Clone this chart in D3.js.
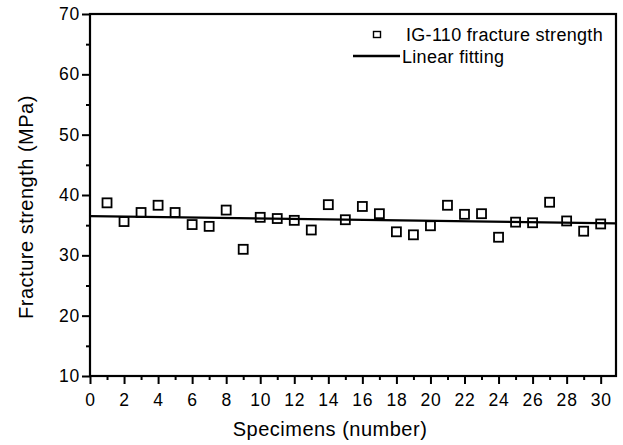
<!DOCTYPE html>
<html>
<head>
<meta charset="utf-8">
<script src="https://cdn.jsdelivr.net/npm/d3@7"></script>
<style>
  body { margin: 0; background: #fff; }
  text { font-family: "Liberation Sans", Arial, sans-serif; fill: #000; }
</style>
</head>
<body>
<svg id="chart" width="623" height="445"></svg>
<script>
// specimen numbers and measured fracture strength (MPa)
var specimens = [1, 2, 3, 4, 5, 6, 7, 8, 9, 10, 11, 12, 13, 14, 15,
                 16, 17, 18, 19, 20, 21, 22, 23, 24, 25, 26, 27, 28, 29, 30];
var strength = [38.7, 35.6, 37.1, 38.3, 37.1, 35.1, 34.8, 37.5, 31.0, 36.3, 36.1, 35.8, 34.2, 38.4, 35.9,
                38.1, 36.9, 33.9, 33.4, 34.9, 38.3, 36.8, 36.9, 33.0, 35.5, 35.4, 38.8, 35.7, 34.0, 35.2];

// linear fitting end points
var fitX = [0, 30.9];
var fitY = [36.5, 35.3];

var xTicks = [0, 2, 4, 6, 8, 10, 12, 14, 16, 18, 20, 22, 24, 26, 28, 30];
var yTicks = [10, 20, 30, 40, 50, 60, 70];

var svg = d3.select("#chart"),
    margin = {top: 14, right: 7, bottom: 69, left: 90},
    width = 623 - margin.left - margin.right,
    height = 445 - margin.top - margin.bottom,
    g = svg.append("g").attr("transform", "translate(" + margin.left + "," + margin.top + ")");

var x = d3.scaleLinear().domain([0, 30.9]).range([0, width]);
var y = d3.scaleLinear().domain([10, 70]).range([height, 0]);

function styleTicks(a) {
  a.select(".domain").remove();
  a.selectAll("line").attr("stroke-width", 2);
  a.selectAll("text")
      .attr("font-size", 17.5)
      .attr("letter-spacing", 0.8)
      .attr("font-family", "Liberation Sans, Arial, sans-serif");
}

// minor ticks
g.append("g")
    .attr("transform", "translate(0," + height + ")")
    .call(d3.axisBottom(x).tickValues(d3.range(1, 31, 2)).tickSize(4).tickFormat(""))
    .call(styleTicks);

g.append("g")
    .call(d3.axisLeft(y).tickValues(d3.range(15, 70, 10)).tickSize(4).tickFormat(""))
    .call(styleTicks);

// major ticks
g.append("g")
    .attr("transform", "translate(0," + height + ")")
    .call(d3.axisBottom(x).tickValues(xTicks).tickSize(8).tickPadding(10))
    .call(styleTicks);

g.append("g")
    .call(d3.axisLeft(y).tickValues(yTicks).tickSize(8).tickPadding(2))
    .call(styleTicks);

// frame
g.append("rect")
    .attr("width", width)
    .attr("height", height)
    .attr("fill", "none")
    .attr("stroke", "#000")
    .attr("stroke-width", 2.2);

// linear fitting line
var fitLine = d3.line()
    .x(function(d) { return x(d[0]); })
    .y(function(d) { return y(d[1]); });

g.append("path")
    .datum(d3.zip(fitX, fitY))
    .attr("fill", "none")
    .attr("stroke", "#000")
    .attr("stroke-width", 2.2)
    .attr("d", fitLine);

// data squares
var sz = 9;
g.selectAll(".pt")
    .data(d3.zip(specimens, strength))
  .enter().append("rect")
    .attr("class", "pt")
    .attr("x", function(d) { return x(d[0]) - sz / 2; })
    .attr("y", function(d) { return y(d[1]) - sz / 2; })
    .attr("width", sz)
    .attr("height", sz)
    .attr("fill", "none")
    .attr("stroke", "#000")
    .attr("stroke-width", 1.8);

// legend
var lg = svg.append("g");
lg.append("rect")
    .attr("x", 373.5).attr("y", 31.5)
    .attr("width", 7).attr("height", 6)
    .attr("fill", "none").attr("stroke", "#000").attr("stroke-width", 1.4);
lg.append("text")
    .attr("x", 406).attr("y", 41)
    .attr("font-size", 18)
    .attr("letter-spacing", 0.3)
    .text("IG-110 fracture strength");
lg.append("line")
    .attr("x1", 353).attr("x2", 400)
    .attr("y1", 56).attr("y2", 56)
    .attr("stroke", "#000").attr("stroke-width", 2.5);
lg.append("text")
    .attr("x", 402).attr("y", 63)
    .attr("font-size", 18)
    .attr("letter-spacing", 0.3)
    .text("Linear fitting");

// axis titles
svg.append("text")
    .attr("x", 330)
    .attr("y", 436)
    .attr("text-anchor", "middle")
    .attr("font-size", 20)
    .attr("letter-spacing", 0.5)
    .text("Specimens (number)");

svg.append("text")
    .attr("transform", "translate(33,207) rotate(-90)")
    .attr("text-anchor", "middle")
    .attr("font-size", 20)
    .attr("letter-spacing", 0.5)
    .text("Fracture strength (MPa)");
</script>
</body>
</html>
